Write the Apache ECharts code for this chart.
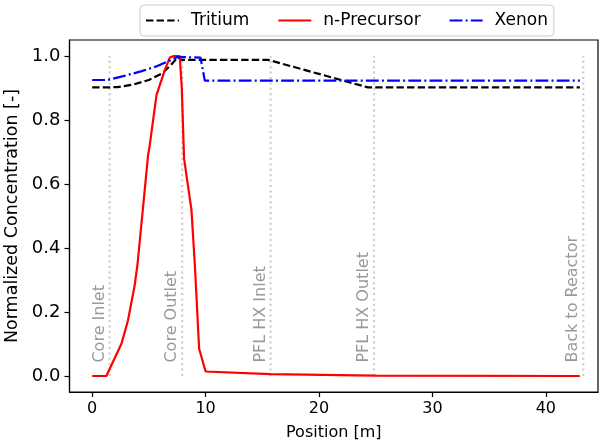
<!DOCTYPE html>
<html>
<head>
<meta charset="utf-8">
<script src="https://cdn.jsdelivr.net/npm/echarts@6/dist/echarts.min.js"></script>
<style>
  html, body { margin: 0; padding: 0; background: #fff; }
  #myChart { width: 606px; height: 445px; }
</style>
</head>
<body>
<div id="myChart"></div>
<script>
// 曲线数据 (position [m] / normalized value)
const tritiumX = [0, 1.5, 2.25, 3.66, 4.99, 6.2, 6.95, 7.55, 7.9, 15.5, 24.3, 43.0];
const tritiumY = [0.902, 0.902, 0.903, 0.911, 0.925, 0.946, 0.972, 0.996, 0.988, 0.988, 0.902, 0.902];

const precursorX = [0, 1.25, 2.58, 3.16, 3.75, 4.0, 4.93, 5.07, 5.67, 6.4, 6.84, 7.2, 7.72, 7.9, 8.1, 8.75, 9.05, 9.43, 10.0, 15.7, 25.0, 43.0];
const precursorY = [0, 0, 0.101, 0.174, 0.284, 0.35, 0.69, 0.72, 0.878, 0.956, 0.995, 1.0, 1.0, 0.9, 0.68, 0.52, 0.35, 0.085, 0.014, 0.006, 0.001, 0.0];

const xenonX = [0, 1.35, 2.74, 4.3, 5.7, 6.9, 7.5, 9.55, 9.93, 43.0];
const xenonY = [0.925, 0.925, 0.937, 0.952, 0.968, 0.987, 0.997, 0.995, 0.923, 0.923];

// 竖线标记
const markerX = [1.54, 7.94, 15.73, 24.85, 43.3];
const markerNames = ['Core Inlet', 'Core Outlet', 'PFL HX Inlet', 'PFL HX Outlet', 'Back to Reactor'];

// 刻度
const xTicks = [0, 10, 20, 30, 40];
const yTicks = [0, 0.2, 0.4, 0.6, 0.8, 1.0];

const FONT = 'DejaVu Sans';
const pairs = (xs, ys) => xs.map((x, i) => [x, ys[i]]);

const markerSeries = markerX.map(x => ({
  type: 'line',
  silent: true,
  symbol: 'none',
  data: [[x, 0], [x, 1]],
  lineStyle: { color: '#cccccc', width: 2.2, type: [2, 3.4] },
  z: 1
}));

const option = {
  animation: false,
  textStyle: { fontFamily: FONT },
  legend: {
    top: 5,
    left: 140,
    data: ['Tritium', 'n-Precursor', 'Xenon'],
    itemWidth: 33,
    itemHeight: 14,
    itemGap: 28,
    padding: [7, 6, 7, 5],
    borderColor: '#cccccc',
    borderWidth: 1,
    borderRadius: 4,
    itemStyle: { opacity: 0 },
    textStyle: { fontSize: 17, color: '#000', fontFamily: FONT, padding: [0, 0, 0, 7] }
  },
  grid: { left: 69.5, right: 8, top: 40, bottom: 53, show: true, borderColor: '#000', borderWidth: 1.2, outerBoundsMode: 'none' },
  xAxis: {
    type: 'value',
    min: -2.0,
    max: 44.6,
    name: 'Position [m]',
    nameLocation: 'middle',
    nameGap: 33,
    nameTextStyle: { fontSize: 16, color: '#000', fontFamily: FONT },
    splitLine: { show: false },
    axisLine: { onZero: false, lineStyle: { color: '#000', width: 1.2 } },
    axisTick: { customValues: xTicks, length: 5, lineStyle: { color: '#000', width: 1.2 } },
    axisLabel: { customValues: xTicks, fontSize: 16, color: '#000', margin: 9, fontFamily: FONT }
  },
  yAxis: {
    type: 'value',
    min: -0.05,
    max: 1.05,
    name: 'Normalized Concentration [-]',
    nameLocation: 'middle',
    nameGap: 38,
    nameTextStyle: { fontSize: 17.5, color: '#000', fontFamily: FONT },
    splitLine: { show: false },
    axisLine: { show: true, onZero: false, lineStyle: { color: '#000', width: 1.2 } },
    axisTick: { show: true, customValues: yTicks, length: 5, lineStyle: { color: '#000', width: 1.2 } },
    axisLabel: { customValues: yTicks, fontSize: 18, color: '#000', margin: 9, fontFamily: FONT,
      formatter: v => v.toFixed(1) }
  },
  series: [
    ...markerSeries,
    {
      type: 'scatter',
      silent: true,
      symbolSize: 1,
      itemStyle: { color: 'rgba(0,0,0,0)' },
      data: markerX.map((x, i) => ({ value: [x, 0.042], name: markerNames[i] })),
      label: {
        show: true,
        position: 'inside',
        formatter: '{b}',
        rotate: 90,
        align: 'left',
        verticalAlign: 'bottom',
        offset: [0, -2],
        fontSize: 16,
        color: '#808080',
        fontFamily: FONT
      },
      z: 2
    },
    {
      name: 'Tritium',
      type: 'line',
      symbol: 'none',
      data: pairs(tritiumX, tritiumY),
      lineStyle: { color: '#000', width: 2.2, type: [7.4, 3.2] },
      itemStyle: { color: '#000' },
      z: 3
    },
    {
      name: 'n-Precursor',
      type: 'line',
      symbol: 'none',
      data: pairs(precursorX, precursorY),
      lineStyle: { color: '#ff0000', width: 2.2 },
      itemStyle: { color: '#ff0000' },
      z: 4
    },
    {
      name: 'Xenon',
      type: 'line',
      symbol: 'none',
      data: pairs(xenonX, xenonY),
      lineStyle: { color: '#0000ff', width: 2.2, type: [12.8, 3.2, 2, 3.2] },
      itemStyle: { color: '#0000ff' },
      z: 5
    }
  ]
};

let myChart = echarts.init(document.getElementById('myChart'));
myChart.setOption(option);
window.onresize = myChart.resize;
</script>
</body>
</html>
